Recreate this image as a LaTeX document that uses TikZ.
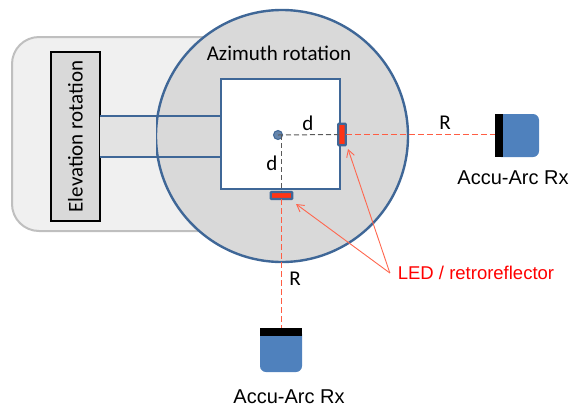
\documentclass[tikz,border=0pt]{standalone}
\usepackage{fontspec}
\setmainfont{Liberation Sans}
\newfontfamily\calibrifont{Carlito}
\usetikzlibrary{positioning, arrows.meta}
\definecolor{ringblue}{HTML}{3F6797}
\definecolor{rxblue}{HTML}{4F81BD}
\definecolor{ledred}{HTML}{FF3414}

\begin{document}
\begin{tikzpicture}[x=1pt, y=-1pt, inner sep=0pt, outer sep=0pt,
    mountnode/.style={draw=gray!50, line width=2pt, fill=black!6, rounded corners=27pt, minimum width=240pt, minimum height=194pt},
    azimuthnode/.style={circle, draw=ringblue, line width=2.4pt, fill=black!15, minimum size=252pt},
    innernode/.style={draw=ringblue, line width=2.6pt, fill=white, minimum width=119pt, minimum height=110pt},
    elevnode/.style={draw=black, line width=2pt, fill=black!15, minimum width=49pt, minimum height=169pt},
    lednode/.style={draw=ringblue, line width=2.4pt, fill=ledred, rounded corners=0.8pt},
    rxnode/.style={fill=rxblue, rounded corners=6pt},
    barnode/.style={fill=black},
    shaftline/.style={draw=ringblue, line width=2.2pt},
    rangeline/.style={draw=ledred!80, dash pattern=on 6pt off 3pt, line width=1.5pt},
    armline/.style={draw=black!65, dash pattern=on 5pt off 3pt, line width=1pt},
    pointline/.style={draw=ledred!75, line width=0.9pt, -{Straight Barb[length=7pt, width=8pt]}},
    caption/.style={font=\fontsize{20}{22}\selectfont},
    ledcaption/.style={font=\fontsize{18.5}{22}\selectfont, text=red},
    smalltext/.style={font=\calibrifont\fontsize{21}{23}\selectfont}]
  \useasboundingbox (0,0) rectangle (574,408);
  \node[mountnode] (mount) at (132,134) {};
  \node[elevnode] (elev) at (75.5,136.5) {};
  \node[rotate=90, smalltext] (elevtext) at (75.5,136.5) {Elevation rotation};
  \node[azimuthnode] (azimuth) at (282,136) {};
  \node[smalltext] (azitext) at (279,53) {Azimuth rotation};
  \node[innernode] (inner) at (280.5,134) {};
  \coordinate (upper) at (0,116);
  \coordinate (lower) at (0,157);
  \fill[black!11] (elev.east |- upper) rectangle (azimuth.west |- lower);
  \draw[shaftline] (elev.east |- upper) -- (inner.west |- upper);
  \draw[shaftline] (elev.east |- lower) -- (inner.west |- lower);

  \node[circle, draw=ringblue, line width=1pt, fill=ringblue!80, minimum size=9pt] (pivot) at (278,135) {};
  \node[lednode, minimum width=7.5pt, minimum height=21.5pt] (ledr) at (342,134.5) {};
  \node[lednode, minimum width=21.5pt, minimum height=7pt] (ledb) at (281.5,195.5) {};
  \draw[armline] (pivot.center) -- (ledr.west);
  \draw[armline] (pivot.center -| ledb) -- (ledb.north);
  \node[smalltext] (dright) at (308,123) {d};
  \node[smalltext] (dbottom) at (272,163) {d};

  \node[rxnode, minimum width=44pt, minimum height=43pt] (rxright) at (517,135.5) {};
  \node[barnode, minimum width=8pt, minimum height=43pt] (barright) at (499,135.5) {};
  \node[rxnode, minimum width=42pt, minimum height=44pt] (rxbottom) at (281,350) {};
  \node[barnode, minimum width=42pt, minimum height=8pt] (barbottom) at (281,332) {};
  \draw[rangeline] (ledr.east) -- (barright.west |- ledr);
  \draw[rangeline] (ledb.south) -- (barbottom.north -| ledb);
  \node[smalltext] (rright) at (445,123) {R};
  \node[smalltext] (rbottom) at (295,279) {R};

  \node[caption] (capright) at (513,178) {Accu-Arc Rx};
  \node[caption] (capbottom) at (289,397) {Accu-Arc Rx};
  \node[ledcaption] (ledtext) at (476,273) {LED / retroreflector};
  \coordinate (tipright) at (348,149);
  \coordinate (tipbottom) at (296,204);
  \draw[pointline] (ledtext.west) ++(-8,0) coordinate (start) -- (tipright);
  \draw[pointline] (start) -- (tipbottom);
\end{tikzpicture}
\end{document}
